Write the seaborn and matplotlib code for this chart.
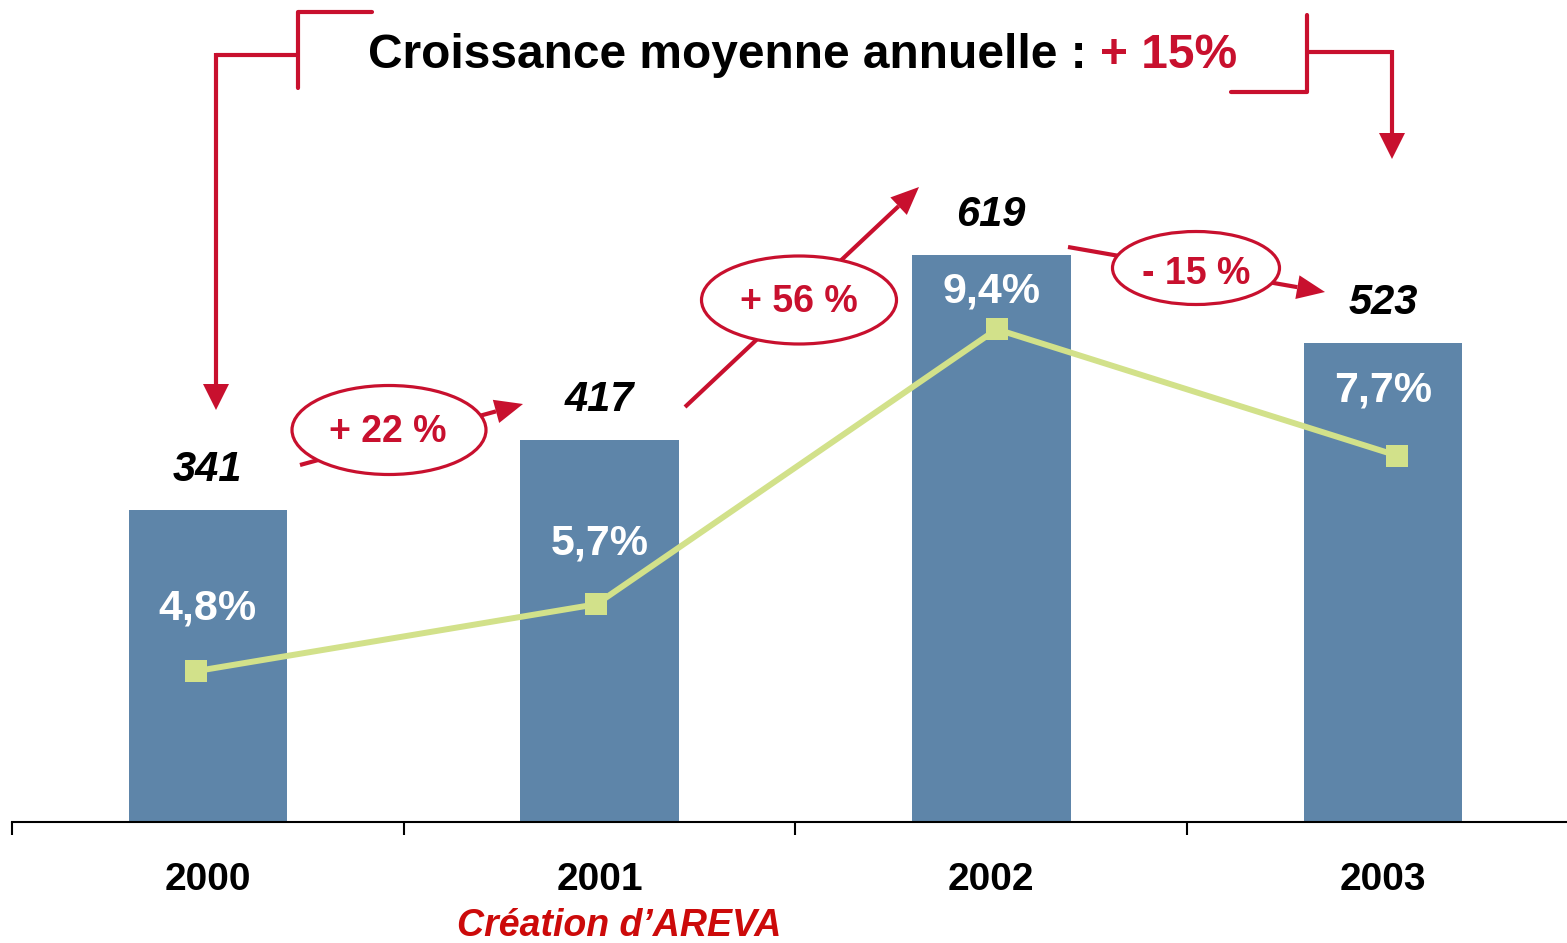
import matplotlib
matplotlib.use("Agg")
import matplotlib.pyplot as plt
import matplotlib.transforms as mtransforms
from matplotlib.patches import Ellipse
import numpy as np
import seaborn as sns

# data
years = ["2000", "2001", "2002", "2003"]
revenue = [341, 417, 619, 523]
margin = [4.8, 5.7, 9.4, 7.7]
margin_labels = ["4,8%", "5,7%", "9,4%", "7,7%"]
growth_labels = ["+ 22 %", "+ 56 %", "- 15 %"]
title_text = "Croissance moyenne annuelle : "
title_rate = "+ 15%"
note = "Création d\u2019AREVA"

BAR = "#5E85A9"
LINE = "#D2E18A"
RED = "#C8102E"
W, H = 1567, 943

sns.set_style("white")
plt.rcParams["font.family"] = ["Liberation Sans", "DejaVu Sans"]

fig = plt.figure(figsize=(W / 100, H / 100), dpi=100)
rect = [12 / W, 121 / H, 1555 / W, 822 / H]

# bars
ax = fig.add_axes(rect)
sns.barplot(x=years, y=revenue, color=BAR, saturation=1, width=0.405,
            linewidth=0, ax=ax)
ax.set_xlim(-0.5, 3.47)
ax.set_ylim(0, 898)
for s in ["top", "left", "right"]:
    ax.spines[s].set_visible(False)
ax.spines["bottom"].set_color("black")
ax.spines["bottom"].set_linewidth(1.5)
ax.set_xticks([-0.5, 0.5, 1.5, 2.5])
ax.set_xticklabels([])
ax.set_yticks([])
ax.tick_params(axis="x", bottom=True, direction="out", length=9, width=1.5,
               color="black")
ax.set_xlabel("")
ax.set_ylabel("")

for i, v in enumerate(revenue):
    ax.annotate(str(v), xy=(i, v), xytext=(0, 29), textcoords="offset points",
                ha="center", va="center", fontsize=30, fontweight="bold",
                fontstyle="italic", color="black")
    ax.annotate(years[i], xy=(i, 0), xytext=(0, -42), textcoords="offset points",
                ha="center", va="center", fontsize=28, fontweight="bold",
                color="black")

ax.annotate(note, xy=(1, 0), xytext=(14, -75), textcoords="offset points",
            ha="center", va="center", fontsize=27, fontweight="bold",
            fontstyle="italic", color="#CC0A0A")

# margin line on its own scale
ax2 = fig.add_axes(rect)
ax2.patch.set_visible(False)
sns.lineplot(x=np.arange(len(margin)), y=margin, ax=ax2, color=LINE, lw=4.3,
             marker="s", markersize=16, markeredgewidth=0)
ax2.set_xlim(-0.46, 3.425)
ax2.set_ylim(2.77, 13.83)
ax2.axis("off")

mixed = mtransforms.blended_transform_factory(ax.transData, ax2.transData)
label_off = [45, 44, 27, 47]
for i, (m, lab) in enumerate(zip(margin, margin_labels)):
    ax2.annotate(lab, xy=(i, m), xycoords=mixed, xytext=(0, label_off[i]),
                 textcoords="offset points", ha="center", va="center",
                 fontsize=31, fontweight="bold", color="white")

# overlay for title, brackets and growth call-outs (pixel coords)
ov = fig.add_axes([0, 0, 1, 1])
ov.set_xlim(0, W)
ov.set_ylim(H, 0)
ov.axis("off")


def arrow(x0, y0, x1, y1, hl=26, hw=26):
    d = np.array([x1 - x0, y1 - y0], dtype=float)
    u = d / np.hypot(*d)
    p = np.array([-u[1], u[0]])
    base = np.array([x1, y1]) - u * hl
    ov.plot([x0, base[0]], [y0, base[1]], color=RED, lw=3, solid_capstyle="butt")
    tri = np.array([[x1, y1], base + p * hw / 2, base - p * hw / 2])
    ov.fill(tri[:, 0], tri[:, 1], color=RED, lw=0)


# left bracket
ov.plot([372, 298, 298], [12, 12, 88], color=RED, lw=3)
ov.plot([298, 216], [55, 55], color=RED, lw=3)
arrow(216, 53, 216, 410, hl=26, hw=26)
# right bracket
ov.plot([1231, 1307, 1307], [92, 92, 15], color=RED, lw=3)
ov.plot([1307, 1392], [52, 52], color=RED, lw=3)
arrow(1392, 50, 1392, 159, hl=26, hw=26)

t1 = ov.text(368, 55, title_text, ha="left", va="center", fontsize=34.5,
             fontweight="bold", color="black")
fig.canvas.draw()
bb = t1.get_window_extent()
ov.text(bb.x1, 55, title_rate, ha="left", va="center", fontsize=34.5,
        fontweight="bold", color=RED)

# growth call-outs
callouts = [
    ((300, 465), (523, 404), (389, 430), 194, 89, (388, 432)),
    ((685, 407), (919, 187), (799, 300), 195, 88, (799, 302)),
    ((1068, 247), (1325, 292), (1196, 268), 167, 73, (1196, 274)),
]
for lab, (p0, p1, c, ew, eh, tc) in zip(growth_labels, callouts):
    arrow(p0[0], p0[1], p1[0], p1[1], hl=28, hw=24)
    ov.add_patch(Ellipse(c, ew, eh, facecolor="white", edgecolor=RED, lw=2.3,
                         zorder=3))
    ov.text(tc[0], tc[1], lab, ha="center", va="center", fontsize=27,
            fontweight="bold", color=RED, zorder=4)

fig.savefig("out.png", dpi=100)
